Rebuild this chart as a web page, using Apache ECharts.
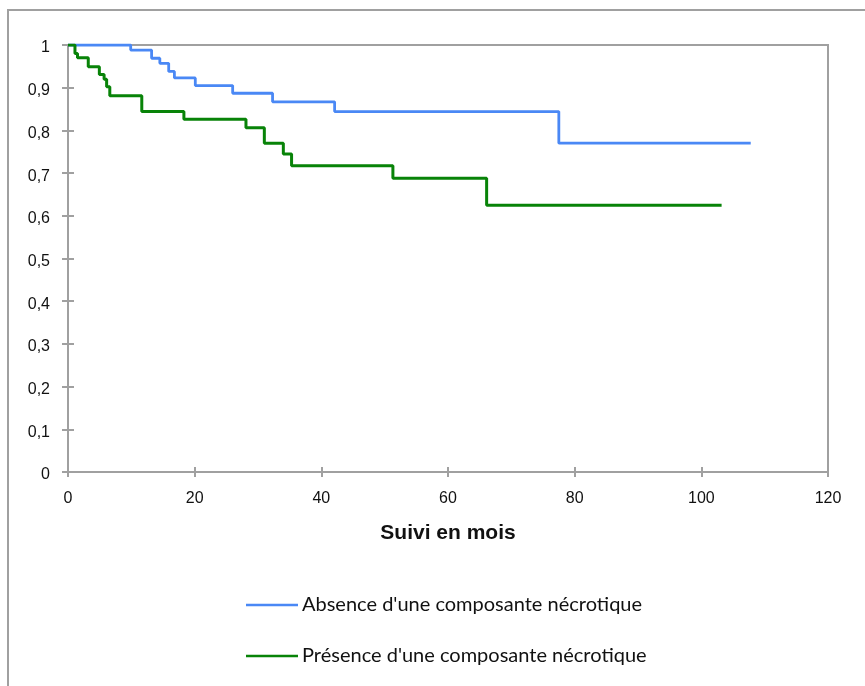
<!DOCTYPE html>
<html>
<head>
<meta charset="utf-8">
<script src="https://cdn.jsdelivr.net/npm/echarts@6/dist/echarts.min.js"></script>
<style>
html,body{margin:0;padding:0;background:#fff;}
#chart{width:865px;height:686px;}
</style>
</head>
<body>
<div id="chart"></div>
<script>
// Kaplan-Meier step curves: [months, survival]
const absenceMonths = [0, 9.9, 13.2, 14.5, 15.9, 16.8, 20.1, 26.0, 32.3, 42.1, 77.5, 107.8];
const absenceSurv   = [1, 0.988, 0.969, 0.957, 0.938, 0.923, 0.905, 0.887, 0.867, 0.844, 0.770, 0.770];
const presenceMonths = [0, 1.1, 1.5, 3.2, 4.95, 5.7, 6.1, 6.6, 11.65, 18.3, 28.1, 31.0, 34.0, 35.3, 51.3, 66.1, 103.2];
const presenceSurv   = [1, 0.980, 0.970, 0.949, 0.931, 0.920, 0.902, 0.881, 0.844, 0.826, 0.806, 0.770, 0.745, 0.717, 0.688, 0.625, 0.625];
const seriesNames = ["Absence d'une composante nécrotique", "Présence d'une composante nécrotique"];
const xTitle = "Suivi en mois";

const pairs = (xs, ys) => xs.map((x, i) => [x, ys[i]]);
const axisGray = '#a0a0a0';
const blue = '#4a88f5';
const green = '#088308';
const chart = echarts.init(document.getElementById('chart'));
const yFmt = v => String(+v.toFixed(1)).replace('.', ',');

chart.setOption({
  animation: false,
  backgroundColor: '#fff',
  graphic: [{
    type: 'rect', silent: true, z: -1,
    shape: {x: 8, y: 10, width: 900, height: 720},
    style: {fill: 'none', stroke: axisGray, lineWidth: 2}
  }],
  grid: {left: 68, right: 37, top: 45, bottom: 214, show: true, borderColor: axisGray, borderWidth: 2, backgroundColor: 'transparent'},
  legend: {
    orient: 'vertical', left: 246, top: 593, padding: 0, itemWidth: 52, itemHeight: 2.5, itemGap: 27,
    icon: 'rect',
    data: [
      {name: seriesNames[0], itemStyle: {color: blue}},
      {name: seriesNames[1], itemStyle: {color: green}}
    ],
    textStyle: {fontFamily: 'Lato', fontSize: 20, lineHeight: 24, color: '#111', padding: [0,0,0,-1]}
  },
  xAxis: [{
    type: 'value', min: 0, max: 120, interval: 20,
    name: xTitle, nameLocation: 'middle', nameGap: 51,
    nameTextStyle: {fontFamily: 'Liberation Sans', fontWeight: 'bold', fontSize: 21, color: '#111'},
    axisLine: {lineStyle: {color: axisGray, width: 2}},
    axisTick: {show: true, length: 5, lineStyle: {color: axisGray, width: 2}},
    axisLabel: {margin: 19, fontFamily: 'Liberation Sans', fontSize: 16, color: '#111'},
    splitLine: {show: false}
  }, {
    type: 'value', min: 0, max: 120, interval: 20, position: 'bottom',
    axisLine: {show: true, lineStyle: {color: axisGray, width: 2}},
    axisTick: {show: true, inside: true, length: 5, lineStyle: {color: axisGray, width: 2}},
    axisLabel: {show: false}, splitLine: {show: false}
  }],
  yAxis: [{
    type: 'value', min: 0, max: 1, interval: 0.1,
    axisLine: {show: true, lineStyle: {color: axisGray, width: 2}},
    axisTick: {show: true, length: 6, lineStyle: {color: axisGray, width: 2}},
    axisLabel: {margin: 18, formatter: yFmt, fontFamily: 'Liberation Sans', fontSize: 16, color: '#111', verticalAlign: 'top', lineHeight: 6},
    splitLine: {show: false}
  }, {
    type: 'value', min: 0, max: 1, interval: 0.1, position: 'left',
    axisLine: {show: true, lineStyle: {color: axisGray, width: 2}},
    axisTick: {show: true, inside: true, length: 6, lineStyle: {color: axisGray, width: 2}},
    axisLabel: {show: false}, splitLine: {show: false}
  }],
  series: [{
    name: seriesNames[0], type: 'line', step: 'end', symbol: 'none',
    xAxisIndex: 0, yAxisIndex: 0,
    lineStyle: {color: blue, width: 2.8}, itemStyle: {color: blue},
    data: pairs(absenceMonths, absenceSurv), z: 3
  }, {
    name: seriesNames[1], type: 'line', step: 'end', symbol: 'none',
    xAxisIndex: 0, yAxisIndex: 0,
    lineStyle: {color: green, width: 3}, itemStyle: {color: green},
    data: pairs(presenceMonths, presenceSurv), z: 4
  }]
});
</script>
</body>
</html>
